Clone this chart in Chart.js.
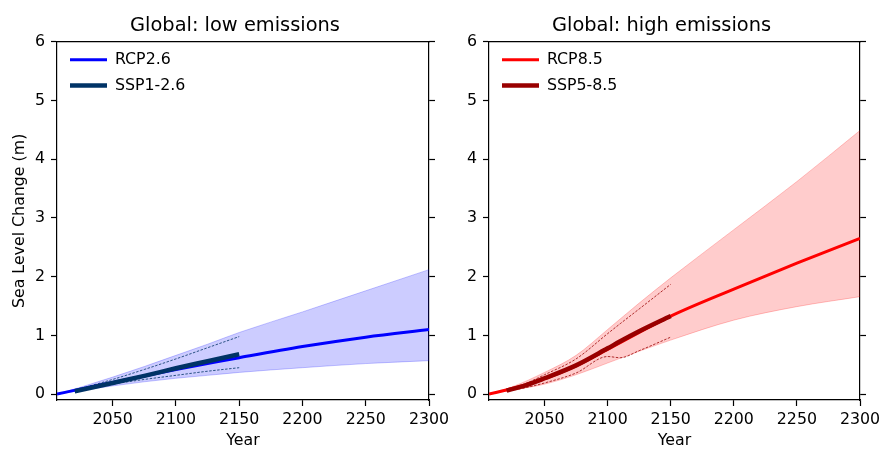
<!DOCTYPE html>
<html>
<head>
<meta charset="utf-8">
<title>Global sea level change</title>
<script src="https://cdn.jsdelivr.net/npm/chart.js@4.4.1/dist/chart.umd.min.js"></script>
<style>
  body { margin: 0; background: #fff; }
  #wrap { position: relative; width: 882px; height: 449px; overflow: hidden; }
  canvas { position: absolute; top: 0; }
</style>
</head>
<body>
<div id="wrap">
  <canvas id="lowChart" width="470" height="449" style="left:0"></canvas>
  <canvas id="highChart" width="441" height="449" style="left:441px"></canvas>
</div>
<script>
// years sampled for the long RCP runs and the shorter SSP runs
const rcpYears = [2006, 2025, 2050, 2075, 2100, 2125, 2150, 2200, 2250, 2300]
const lowSspYears = [2020, 2050, 2075, 2100, 2125, 2150]
const highSspYears = [2020, 2035, 2050, 2075, 2100, 2110, 2125, 2150]

// low emissions (m)
const rcp26Median = [0, 0.09, 0.20, 0.31, 0.42, 0.52, 0.62, 0.81, 0.97, 1.10]
const rcp26Upper = [0, 0.12, 0.29, 0.47, 0.66, 0.85, 1.05, 1.40, 1.76, 2.12]
const rcp26Lower = [0, 0.06, 0.14, 0.21, 0.27, 0.32, 0.37, 0.45, 0.52, 0.57]
const ssp126Median = [0.05, 0.19, 0.31, 0.44, 0.56, 0.68]
const ssp126Upper = [0.07, 0.25, 0.42, 0.60, 0.79, 0.98]
const ssp126Lower = [0.05, 0.17, 0.25, 0.32, 0.39, 0.45]

// high emissions (m)
const rcp85Median = [0, 0.10, 0.26, 0.48, 0.76, 1.05, 1.33, 1.79, 2.23, 2.65]
const rcp85Upper = [0, 0.13, 0.37, 0.66, 1.10, 1.55, 1.98, 2.80, 3.62, 4.49]
const rcp85Lower = [0, 0.07, 0.17, 0.33, 0.53, 0.73, 0.92, 1.26, 1.49, 1.66]
const ssp585Median = [0.06, 0.15, 0.27, 0.49, 0.78, 0.90, 1.07, 1.33]
const ssp585Upper = [0.07, 0.18, 0.33, 0.60, 1.03, 1.20, 1.45, 1.87]
const ssp585Lower = [0.05, 0.11, 0.19, 0.36, 0.64, 0.62, 0.74, 0.97]

const yTicks = [0, 1, 2, 3, 4, 5, 6]
const xTicks = [2050, 2100, 2150, 2200, 2250, 2300]

Chart.defaults.font.family = "'DejaVu Sans', sans-serif"
Chart.defaults.font.size = 15.8
Chart.defaults.color = '#000'

// the chartArea legend gets top = 0 for vertical layouts, push it inside the axes box
const legendInside = {
    id: 'legendInside',
    afterLayout(chart) {
        let l = chart.legend
        l.top = chart.chartArea.top
        l.bottom = l.top + l.height
        l.left = chart.chartArea.left + 3
        l.right = l.left + l.width
    }
}

function pts(years, vals) {
    return years.map((x, i) => ({x: x, y: vals[i]}))
}

function makePanel(id, p) {
    let ctx = document.querySelector(id).getContext('2d')
    let line = {pointRadius: 0, fill: false, cubicInterpolationMode: 'monotone'}
    return new Chart(ctx, {
        type: 'line',
        plugins: [legendInside],
        data: {
            datasets: [
                {...line, label: p.rcpName, data: pts(rcpYears, p.rcpMid), borderColor: p.rcpColor, backgroundColor: p.rcpColor, borderWidth: 3, order: 2},
                {...line, label: p.sspName, data: pts(p.sspYears, p.sspMid), borderColor: p.sspColor, backgroundColor: p.sspColor, borderWidth: 4.5, order: 1},
                {...line, label: 'band-hi', data: pts(rcpYears, p.rcpHi), borderColor: p.edge, backgroundColor: p.band, borderWidth: 1, fill: '+1', order: 5},
                {...line, label: 'band-lo', data: pts(rcpYears, p.rcpLo), borderColor: p.edge, borderWidth: 1, order: 5},
                {...line, label: 'ssp-hi', data: pts(p.sspYears, p.sspHi), borderColor: p.sspColor, borderWidth: 0.8, borderDash: [2.5, 1.5], order: 3},
                {...line, label: 'ssp-lo', data: pts(p.sspYears, p.sspLo), borderColor: p.sspColor, borderWidth: 0.8, borderDash: [2.5, 1.5], order: 3}
            ]
        },
        options: {
            responsive: false,
            animation: false,
            events: [],
            layout: {padding: 0},
            plugins: {
                tooltip: {enabled: false},
                title: {
                    display: true,
                    text: p.title,
                    font: {size: 19.4, weight: 'normal'},
                    padding: {top: 14, bottom: 4.5}
                },
                legend: {
                    position: 'chartArea',
                    align: 'start',
                    labels: {
                        usePointStyle: true,
                        pointStyle: 'line',
                        pointStyleWidth: 37,
                        padding: 10,
                        filter: item => item.datasetIndex < 2,
                        sort: (a, b) => a.datasetIndex - b.datasetIndex
                    }
                }
            },
            scales: {
                x: {
                    type: 'linear',
                    min: 2006,
                    max: 2300,
                    grid: {drawOnChartArea: false, tickLength: 6, color: '#000', tickWidth: 1.2},
                    border: {color: '#000', width: 1.2},
                    ticks: {autoSkip: false, maxRotation: 0, padding: 4, callback: v => String(v)},
                    afterBuildTicks: axis => { axis.ticks = xTicks.map(v => ({value: v})) },
                    afterFit: axis => {
                        axis.height = 49
                        axis.paddingLeft = 0
                        axis.paddingRight = 0
                    },
                    title: {display: true, text: 'Year', padding: {top: 0, bottom: -1.5}}
                },
                x2: {
                    type: 'linear',
                    position: 'top',
                    grid: {drawOnChartArea: false, drawTicks: false},
                    border: {color: '#000', width: 1.2},
                    ticks: {display: false},
                    afterFit: axis => { axis.height = 0 }
                },
                y: {
                    min: -0.1,
                    max: 6,
                    grid: {drawOnChartArea: false, tickLength: 6, color: '#000', tickWidth: 1.2},
                    border: {color: '#000', width: 1.2},
                    ticks: {padding: 6, callback: v => String(v)},
                    afterBuildTicks: axis => { axis.ticks = yTicks.map(v => ({value: v})) },
                    afterFit: axis => { axis.width = p.leftWidth },
                    title: {display: p.yTitle, text: 'Sea Level Change (m)', padding: {top: 10, bottom: 0}}
                },
                y2: {
                    position: 'right',
                    min: -0.1,
                    max: 6,
                    grid: {drawOnChartArea: false, tickLength: 6, color: '#000', tickWidth: 1.2},
                    border: {color: '#000', width: 1.2},
                    ticks: {display: false},
                    afterBuildTicks: axis => { axis.ticks = yTicks.map(v => ({value: v})) },
                    afterFit: axis => { axis.width = p.rightWidth }
                }
            }
        }
    })
}

makePanel('#lowChart', {
    title: 'Global: low emissions',
    rcpName: 'RCP2.6', sspName: 'SSP1-2.6',
    rcpMid: rcp26Median, rcpHi: rcp26Upper, rcpLo: rcp26Lower,
    sspYears: lowSspYears, sspMid: ssp126Median, sspHi: ssp126Upper, sspLo: ssp126Lower,
    rcpColor: '#0000ff', sspColor: '#003366',
    band: 'rgba(0,0,255,0.2)', edge: 'rgba(0,0,255,0.22)',
    leftWidth: 57, rightWidth: 41, yTitle: true
})

makePanel('#highChart', {
    title: 'Global: high emissions',
    rcpName: 'RCP8.5', sspName: 'SSP5-8.5',
    rcpMid: rcp85Median, rcpHi: rcp85Upper, rcpLo: rcp85Lower,
    sspYears: highSspYears, sspMid: ssp585Median, sspHi: ssp585Upper, sspLo: ssp585Lower,
    rcpColor: '#ff0000', sspColor: '#990000',
    band: 'rgba(255,0,0,0.2)', edge: 'rgba(255,0,0,0.22)',
    leftWidth: 48, rightWidth: 22, yTitle: false
})
</script>
</body>
</html>
